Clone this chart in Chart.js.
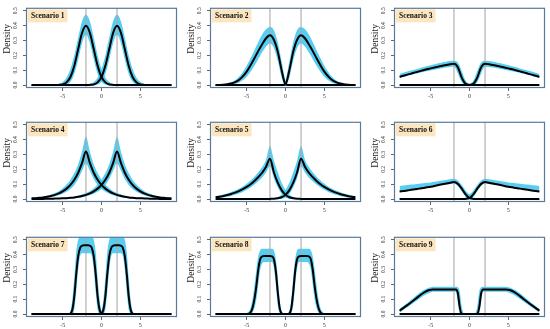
<!DOCTYPE html>
<html><head><meta charset="utf-8">
<script src="https://cdn.jsdelivr.net/npm/chart.js@4.4.1/dist/chart.umd.min.js"></script>
<style>
html,body{margin:0;padding:0;background:#fff;width:550px;height:329px;overflow:hidden;position:relative}
canvas{position:absolute}
</style></head><body>
<canvas id="c1" width="184" height="114" style="left:0px;top:0px"></canvas>
<canvas id="c2" width="184" height="114" style="left:184px;top:0px"></canvas>
<canvas id="c3" width="184" height="114" style="left:368px;top:0px"></canvas>
<canvas id="c4" width="184" height="114" style="left:0px;top:114px"></canvas>
<canvas id="c5" width="184" height="114" style="left:184px;top:114px"></canvas>
<canvas id="c6" width="184" height="114" style="left:368px;top:114px"></canvas>
<canvas id="c7" width="184" height="114" style="left:0px;top:229px"></canvas>
<canvas id="c8" width="184" height="114" style="left:184px;top:229px"></canvas>
<canvas id="c9" width="184" height="114" style="left:368px;top:229px"></canvas>
<script>
// ---------- data ----------
const scenarioNames = ['Scenario 1','Scenario 2','Scenario 3','Scenario 4','Scenario 5','Scenario 6','Scenario 7','Scenario 8','Scenario 9'];
const yAxisTitle = 'Density';
const xTicks = [-5, 0, 5];
const yTicks = [0, 0.1, 0.2, 0.3, 0.4, 0.5];
const refLines = [-2, 2];
const xRange = [-9.72, 9.72];
const yRange = [-0.02, 0.52];

const X37 = [-9,-8.5,-8,-7.5,-7,-6.5,-6,-5.5,-5,-4.5,-4,-3.5,-3,-2.5,-2,-1.5,-1,-0.5,0,0.5,1,1.5,2,2.5,3,3.5,4,4.5,5,5.5,6,6.5,7,7.5,8,8.5,9];
const XF = [-9,-8,-7,-6,-5.5,-5,-4.75,-4.5,-4.25,-4,-3.75,-3.5,-3.25,-3,-2.75,-2.5,-2.25,-2,-1.75,-1.5,-1.25,-1,-0.75,-0.5,-0.25,0,0.25,0.5,0.75,1,1.25,1.5,1.75,2,2.25,2.5,2.75,3,3.25,3.5,3.75,4,4.25,4.5,4.75,5,5.5,6,7,8,9];

// Scenario 1
const L1  = [0,0,0,0,0, 0,0, 0.001,0.004,0.018,0.054,0.13,0.242,0.352,0.399,0.352,0.242,0.13,0.054,0.018,0.004,0.001, 0,0,0,0,0, 0,0,0,0,0, 0,0,0,0,0];
const R1  = [0,0,0,0,0, 0,0,0,0,0, 0,0,0,0,0, 0.001,0.004,0.018,0.054,0.13,0.242,0.352,0.399,0.352,0.242,0.13,0.054,0.018,0.004,0.001, 0,0,0,0,0, 0,0];
const LU1 = [0,0,0,0,0, 0, 0.003,0.008,0.02,0.05,0.108,0.2,0.32,0.43,0.475,0.43,0.32,0.2,0.108,0.05,0.02,0.008,0.003, 0,0,0,0,0, 0,0,0,0,0, 0,0,0,0];
const RU1 = [0,0,0,0,0, 0,0,0,0,0, 0,0,0,0, 0.003,0.008,0.02,0.05,0.108,0.2,0.32,0.43,0.475,0.43,0.32,0.2,0.108,0.05,0.02,0.008,0.003, 0,0,0,0,0, 0];
const LL1 = [0,0,0,0,0, 0,0,0,0, 0.003,0.022,0.075,0.172,0.282,0.338,0.282,0.172,0.075,0.022,0.003, 0,0,0,0,0, 0,0,0,0,0, 0,0,0,0,0, 0,0];
const RL1 = [0,0,0,0,0, 0,0,0,0,0, 0,0,0,0,0, 0,0, 0.003,0.022,0.075,0.172,0.282,0.338,0.282,0.172,0.075,0.022,0.003, 0,0,0,0,0, 0,0,0,0];

// Scenario 2
const L2  = [0,0,0.002,0.005,0.01,0.019,0.034,0.058,0.09,0.133,0.18,0.23,0.275,0.315,0.335,0.305,0.225,0.1,0.005, 0,0,0,0,0, 0,0,0,0,0, 0,0,0,0,0, 0,0,0];
const R2  = [0,0,0,0,0, 0,0,0,0,0, 0,0,0,0,0, 0,0,0, 0.005,0.1,0.225,0.305,0.335,0.315,0.275,0.23,0.18,0.133,0.09,0.058,0.034,0.019,0.01,0.005,0.002,0,0];
const LU2 = [0.001,0.002,0.004,0.009,0.018,0.032,0.055,0.088,0.13,0.18,0.235,0.29,0.34,0.375,0.39,0.37,0.29,0.16,0.03,0.005, 0,0,0,0,0, 0,0,0,0,0, 0,0,0,0,0, 0,0];
const RU2 = [0,0,0,0,0, 0,0,0,0,0, 0,0,0,0,0, 0,0, 0.005,0.03,0.16,0.29,0.37,0.39,0.375,0.34,0.29,0.235,0.18,0.13,0.088,0.055,0.032,0.018,0.009,0.004,0.002,0.001];
const LL2 = [0,0,0,0,0.002,0.007,0.016,0.032,0.055,0.09,0.13,0.175,0.22,0.26,0.28,0.25,0.165,0.05, 0,0,0,0,0, 0,0,0,0,0, 0,0,0,0,0, 0,0,0,0];
const RL2 = [0,0,0,0,0, 0,0,0,0,0, 0,0,0,0,0, 0,0,0,0, 0.05,0.165,0.25,0.28,0.26,0.22,0.175,0.13,0.09,0.055,0.032,0.016,0.007,0.002,0,0,0,0];

// Scenario 3
const L3  = [0.055,0.062,0.07,0.077,0.085,0.092,0.099,0.106,0.112,0.118,0.124,0.13,0.135,0.14,0.143,0.12,0.05,0.008,0.001, 0,0,0,0,0, 0,0,0,0,0, 0,0,0,0,0, 0,0,0];
const R3  = [0,0,0,0,0, 0,0,0,0,0, 0,0,0,0,0, 0,0,0, 0.001,0.008,0.05,0.12,0.143,0.14,0.135,0.13,0.124,0.118,0.112,0.106,0.099,0.092,0.085,0.077,0.07,0.062,0.055];
const LU3 = [0.075,0.083,0.091,0.098,0.105,0.112,0.119,0.126,0.133,0.14,0.146,0.152,0.157,0.161,0.163,0.152,0.095,0.03,0.006, 0,0,0,0,0, 0,0,0,0,0, 0,0,0,0,0, 0,0,0];
const RU3 = [0,0,0,0,0, 0,0,0,0,0, 0,0,0,0,0, 0,0,0, 0.006,0.03,0.095,0.152,0.163,0.161,0.157,0.152,0.146,0.14,0.133,0.126,0.119,0.112,0.105,0.098,0.091,0.083,0.075];
const LL3 = [0.048,0.055,0.062,0.069,0.076,0.082,0.088,0.093,0.098,0.103,0.108,0.113,0.118,0.122,0.123,0.078,0.018,0,0, 0,0,0,0,0, 0,0,0,0,0, 0,0,0,0,0, 0,0,0];
const RL3 = [0,0,0,0,0, 0,0,0,0,0, 0,0,0,0,0, 0,0,0, 0,0,0.018,0.078,0.123,0.122,0.118,0.113,0.108,0.103,0.098,0.093,0.088,0.082,0.076,0.069,0.062,0.055,0.048];

// Scenario 4
const L4  = [0.005,0.006,0.008,0.011,0.015,0.021,0.028,0.038,0.052,0.07,0.095,0.13,0.177,0.243,0.32,0.243,0.177,0.13,0.095,0.07,0.052,0.038,0.028,0.021,0.015,0.011,0.008,0.006,0.005,0.004,0.003,0.002,0.002,0.001,0.001,0.001,0.001];
const R4  = [0.001,0.001,0.001,0.001,0.002,0.002,0.003,0.004,0.005,0.006,0.008,0.011,0.015,0.021,0.028,0.038,0.052,0.07,0.095,0.13,0.177,0.243,0.32,0.243,0.177,0.13,0.095,0.07,0.052,0.038,0.028,0.021,0.015,0.011,0.008,0.006,0.005];
const LU4 = [0.008,0.01,0.012,0.016,0.022,0.03,0.04,0.053,0.072,0.097,0.13,0.175,0.235,0.32,0.42,0.32,0.235,0.175,0.13,0.097,0.072,0.053,0.04,0.03,0.022,0.016,0.012,0.01,0.008,0.006,0.005,0.004,0.003,0.003,0.002,0.002,0.002];
const RU4 = [0.002,0.002,0.002,0.003,0.003,0.004,0.005,0.006,0.008,0.01,0.012,0.016,0.022,0.03,0.04,0.053,0.072,0.097,0.13,0.175,0.235,0.32,0.42,0.32,0.235,0.175,0.13,0.097,0.072,0.053,0.04,0.03,0.022,0.016,0.012,0.01,0.008];
const LL4 = [0.001,0.002,0.003,0.005,0.008,0.012,0.018,0.025,0.035,0.049,0.068,0.095,0.135,0.19,0.24,0.19,0.135,0.095,0.068,0.049,0.035,0.025,0.018,0.012,0.008,0.005,0.003,0.002,0.001, 0,0,0,0,0, 0,0,0];
const RL4 = [0,0,0,0,0, 0,0,0, 0.001,0.002,0.003,0.005,0.008,0.012,0.018,0.025,0.035,0.049,0.068,0.095,0.135,0.19,0.24,0.19,0.135,0.095,0.068,0.049,0.035,0.025,0.018,0.012,0.008,0.005,0.003,0.002,0.001];

// Scenario 5
const L5  = [0.012,0.016,0.021,0.027,0.034,0.043,0.053,0.066,0.082,0.1,0.122,0.148,0.178,0.218,0.272,0.18,0.11,0.06,0.028,0.012,0.005,0.002,0.001, 0,0,0,0,0, 0,0,0,0,0, 0,0,0,0];
const R5  = [0,0,0,0,0, 0,0,0,0,0, 0,0,0,0, 0.001,0.002,0.005,0.012,0.028,0.06,0.11,0.18,0.272,0.218,0.178,0.148,0.122,0.1,0.082,0.066,0.053,0.043,0.034,0.027,0.021,0.016,0.012];
const LU5 = [0.02,0.025,0.031,0.038,0.047,0.058,0.07,0.085,0.103,0.124,0.15,0.18,0.215,0.265,0.355,0.26,0.18,0.11,0.06,0.03,0.014,0.007,0.003,0.001, 0,0,0,0,0, 0,0,0,0,0, 0,0,0];
const RU5 = [0,0,0,0,0, 0,0,0,0,0, 0,0,0, 0.001,0.003,0.007,0.014,0.03,0.06,0.11,0.18,0.26,0.355,0.265,0.215,0.18,0.15,0.124,0.103,0.085,0.07,0.058,0.047,0.038,0.031,0.025,0.02];
const LL5 = [0.003,0.006,0.01,0.015,0.021,0.028,0.037,0.048,0.062,0.078,0.097,0.12,0.145,0.178,0.22,0.14,0.08,0.035,0.01,0.002, 0,0,0,0,0, 0,0,0,0,0, 0,0,0,0,0, 0,0];
const RL5 = [0,0,0,0,0, 0,0,0,0,0, 0,0,0,0,0, 0,0, 0.002,0.01,0.035,0.08,0.14,0.22,0.178,0.145,0.12,0.097,0.078,0.062,0.048,0.037,0.028,0.021,0.015,0.01,0.006,0.003];

// Scenario 6
const L6  = [0.05,0.054,0.058,0.062,0.066,0.07,0.074,0.079,0.083,0.088,0.094,0.099,0.104,0.109,0.114,0.102,0.07,0.032,0.006,0.001, 0,0,0,0,0, 0,0,0,0,0, 0,0,0,0,0, 0,0];
const R6  = [0,0,0,0,0, 0,0,0,0,0, 0,0,0,0,0, 0,0, 0.001,0.006,0.032,0.07,0.102,0.114,0.109,0.104,0.099,0.094,0.088,0.083,0.079,0.074,0.07,0.066,0.062,0.058,0.054,0.05];
const LU6 = [0.088,0.091,0.094,0.097,0.1,0.103,0.106,0.109,0.112,0.116,0.12,0.124,0.128,0.133,0.137,0.125,0.095,0.058,0.03,0.01,0.003, 0,0,0,0,0, 0,0,0,0,0, 0,0,0,0,0, 0];
const RU6 = [0,0,0,0,0, 0,0,0,0,0, 0,0,0,0,0, 0, 0.003,0.01,0.03,0.058,0.095,0.125,0.137,0.133,0.128,0.124,0.12,0.116,0.112,0.109,0.106,0.103,0.1,0.097,0.094,0.091,0.088];
const LL6 = [0.045,0.05,0.054,0.059,0.063,0.068,0.072,0.077,0.081,0.085,0.089,0.094,0.098,0.102,0.104,0.088,0.052,0.015,0, 0,0,0,0,0, 0,0,0,0,0, 0,0,0,0,0, 0,0,0];
const RL6 = [0,0,0,0,0, 0,0,0,0,0, 0,0,0,0,0, 0,0,0, 0,0.015,0.052,0.088,0.104,0.102,0.098,0.094,0.089,0.085,0.081,0.077,0.072,0.068,0.063,0.059,0.054,0.05,0.045];

// Scenario 7 (fine grid)
const L7  = [0,0,0,0,0, 0,0,0,0, 0.003,0.03,0.12,0.27,0.39,0.445,0.46,0.463,0.463,0.463,0.46,0.445,0.39,0.27,0.12,0.03,0.003, 0,0,0,0,0, 0,0,0,0,0, 0,0,0,0,0, 0,0,0,0,0, 0,0,0,0,0];
const R7  = [0,0,0,0,0, 0,0,0,0,0, 0,0,0,0,0, 0,0,0,0,0, 0,0,0,0,0, 0.003,0.03,0.12,0.27,0.39,0.445,0.46,0.463,0.463,0.463,0.46,0.445,0.39,0.27,0.12,0.03,0.003, 0,0,0,0,0, 0,0,0,0];
const LU7 = [0,0,0,0,0, 0,0,0, 0.002,0.02,0.1,0.25,0.42,0.5,0.53,0.54,0.54,0.54,0.54,0.54,0.53,0.5,0.42,0.25,0.1,0.02,0.002, 0,0,0,0,0, 0,0,0,0,0, 0,0,0,0,0, 0,0,0,0,0, 0,0,0,0];
const RU7 = [0,0,0,0,0, 0,0,0,0,0, 0,0,0,0,0, 0,0,0,0,0, 0,0,0,0, 0.002,0.02,0.1,0.25,0.42,0.5,0.53,0.54,0.54,0.54,0.54,0.54,0.53,0.5,0.42,0.25,0.1,0.02,0.002, 0,0,0,0,0, 0,0,0];
const LL7 = [0,0,0,0,0, 0,0,0,0,0, 0, 0.03,0.15,0.3,0.39,0.41,0.41,0.41,0.41,0.41,0.39,0.3,0.15,0.03, 0,0,0,0,0, 0,0,0,0,0, 0,0,0,0,0, 0,0,0,0,0, 0,0,0,0,0, 0,0];
const RL7 = [0,0,0,0,0, 0,0,0,0,0, 0,0,0,0,0, 0,0,0,0,0, 0,0,0,0,0, 0,0, 0.03,0.15,0.3,0.39,0.41,0.41,0.41,0.41,0.41,0.39,0.3,0.15,0.03, 0,0,0,0,0, 0,0,0,0,0, 0];

// Scenario 8 (fine grid)
const L8  = [0,0,0,0,0, 0, 0.002,0.01,0.04,0.1,0.19,0.3,0.37,0.388,0.39,0.39,0.39,0.39,0.388,0.37,0.29,0.15,0.04,0.005, 0,0,0,0,0, 0,0,0,0,0, 0,0,0,0,0, 0,0,0,0,0, 0,0,0,0,0, 0,0];
const R8  = [0,0,0,0,0, 0,0,0,0,0, 0,0,0,0,0, 0,0,0,0,0, 0,0,0,0,0, 0,0, 0.005,0.04,0.15,0.29,0.37,0.388,0.39,0.39,0.39,0.39,0.388,0.37,0.3,0.19,0.1,0.04,0.01,0.002, 0,0,0,0,0, 0];
const LU8 = [0,0,0,0, 0.001,0.005,0.015,0.04,0.1,0.19,0.3,0.39,0.43,0.44,0.44,0.44,0.44,0.44,0.44,0.43,0.37,0.25,0.1,0.02,0.003, 0,0,0,0,0, 0,0,0,0,0, 0,0,0,0,0, 0,0,0,0,0, 0,0,0,0,0, 0];
const RU8 = [0,0,0,0,0, 0,0,0,0,0, 0,0,0,0,0, 0,0,0,0,0, 0,0,0,0,0, 0, 0.003,0.02,0.1,0.25,0.37,0.43,0.44,0.44,0.44,0.44,0.44,0.44,0.43,0.39,0.3,0.19,0.1,0.04,0.015,0.005,0.001, 0,0,0,0];
const LL8 = [0,0,0,0,0, 0,0,0, 0.01,0.04,0.1,0.2,0.3,0.34,0.35,0.35,0.35,0.35,0.35,0.31,0.2,0.06,0.005, 0,0,0,0,0, 0,0,0,0,0, 0,0,0,0,0, 0,0,0,0,0, 0,0,0,0,0, 0,0,0];
const RL8 = [0,0,0,0,0, 0,0,0,0,0, 0,0,0,0,0, 0,0,0,0,0, 0,0,0,0,0, 0,0,0, 0.005,0.06,0.2,0.31,0.35,0.35,0.35,0.35,0.35,0.34,0.3,0.2,0.1,0.04,0.01, 0,0,0,0,0, 0,0,0];

// Scenario 9 (fine grid)
const L9  = [0.022,0.06,0.1,0.14,0.155,0.163,0.165, 0.166,0.166,0.166,0.166,0.166,0.166,0.166,0.166,0.166,0.166,0.166,0.166, 0.14,0.045,0.002, 0,0,0,0,0, 0,0,0,0,0, 0,0,0,0,0, 0,0,0,0,0, 0,0,0,0,0, 0,0,0,0];
const R9  = [0,0,0,0,0, 0,0,0,0,0, 0,0,0,0,0, 0,0,0,0,0, 0,0,0,0,0, 0,0,0,0, 0.002,0.045,0.14, 0.166,0.166,0.166,0.166,0.166,0.166,0.166,0.166,0.166,0.166,0.166,0.166, 0.165,0.163,0.155,0.14,0.1,0.06,0.022];
const LU9 = [0.035,0.075,0.118,0.158,0.172,0.18, 0.183,0.183,0.183,0.183,0.183,0.183,0.183,0.183,0.183,0.183,0.183,0.183,0.183, 0.18,0.15,0.05,0.005, 0,0,0,0,0, 0,0,0,0,0, 0,0,0,0,0, 0,0,0,0,0, 0,0,0,0,0, 0,0,0];
const RU9 = [0,0,0,0,0, 0,0,0,0,0, 0,0,0,0,0, 0,0,0,0,0, 0,0,0,0,0, 0,0,0, 0.005,0.05,0.15,0.18, 0.183,0.183,0.183,0.183,0.183,0.183,0.183,0.183,0.183,0.183,0.183,0.183,0.183, 0.18,0.172,0.158,0.118,0.075,0.035];
const LL9 = [0.01,0.045,0.082,0.12,0.135,0.145, 0.15,0.15,0.15,0.15,0.15,0.15,0.15,0.15,0.15,0.15,0.15,0.15,0.15, 0.08,0.005, 0,0,0,0,0, 0,0,0,0,0, 0,0,0,0,0, 0,0,0,0,0, 0,0,0,0,0, 0,0,0,0,0];
const RL9 = [0,0,0,0,0, 0,0,0,0,0, 0,0,0,0,0, 0,0,0,0,0, 0,0,0,0,0, 0,0,0,0,0, 0.005,0.08, 0.15,0.15,0.15,0.15,0.15,0.15,0.15,0.15,0.15,0.15,0.15,0.15,0.15, 0.145,0.135,0.12,0.082,0.045,0.01];

// ---------- building the charts ----------
const panels = [
  {xs:X37, L:L1, R:R1, LU:LU1, LL:LL1, RU:RU1, RL:RL1},
  {xs:X37, L:L2, R:R2, LU:LU2, LL:LL2, RU:RU2, RL:RL2},
  {xs:X37, L:L3, R:R3, LU:LU3, LL:LL3, RU:RU3, RL:RL3},
  {xs:X37, L:L4, R:R4, LU:LU4, LL:LL4, RU:RU4, RL:RL4},
  {xs:X37, L:L5, R:R5, LU:LU5, LL:LL5, RU:RU5, RL:RL5},
  {xs:X37, L:L6, R:R6, LU:LU6, LL:LL6, RU:RU6, RL:RL6},
  {xs:XF, L:L7, R:R7, LU:LU7, LL:LL7, RU:RU7, RL:RL7},
  {xs:XF, L:L8, R:R8, LU:LU8, LL:LL8, RU:RU8, RL:RL8},
  {xs:XF, L:L9, R:R9, LU:LU9, LL:LL9, RU:RU9, RL:RL9}
];

const BAND = 'rgba(45,194,238,0.8)';
const NONE = 'rgba(0,0,0,0)';
const SERIF = '"Liberation Serif", "DejaVu Serif", serif';

function pts(xs, ys){ return xs.map((x,i)=>({x:x, y:ys[i]})); }

const framePlugin = {
  id: 'frame',
  afterDatasetsDraw(chart, args, opts){
    const {ctx, chartArea:a} = chart;
    ctx.save();
    ctx.strokeStyle = '#5a7a9c';
    ctx.lineWidth = 1.2;
    ctx.strokeRect(a.left+0.5, a.top+0.5, a.right-a.left-1, a.bottom-a.top-1);
    ctx.fillStyle = '#fbe6c0';
    ctx.fillRect(a.left+1.5, a.top+1.5, 40, 13);
    ctx.fillStyle = '#111';
    ctx.font = 'bold 7.5px ' + SERIF;
    ctx.textBaseline = 'middle';
    ctx.textAlign = 'left';
    ctx.fillText(opts.label, a.left+5, a.top+8.5);
    // y axis title (drawn a little above the centre, as in the original)
    ctx.translate(7, (a.top + a.bottom)/2 - 9);
    ctx.rotate(-Math.PI/2);
    ctx.fillStyle = '#222';
    ctx.font = '9.5px ' + SERIF;
    ctx.textAlign = 'center';
    ctx.fillText(opts.title, 0, 0);
    ctx.restore();
  }
};

panels.forEach((p, k) => {
  const band = (up, lo) => [
    {data:pts(p.xs, up), borderColor:NONE, borderWidth:0, backgroundColor:BAND, fill:'+1', pointRadius:0, order:3, cubicInterpolationMode:'monotone'},
    {data:pts(p.xs, lo), borderColor:NONE, borderWidth:0, backgroundColor:NONE, fill:false, pointRadius:0, order:3, cubicInterpolationMode:'monotone'}
  ];
  const datasets = [
    ...band(p.LU, p.LL),
    ...band(p.RU, p.RL),
    ...refLines.map(v => ({data:[{x:v,y:yRange[0]},{x:v,y:yRange[1]}], borderColor:'#a9a9a9', borderWidth:1.1, pointRadius:0, fill:false, order:2})),
    {data:pts(p.xs, p.L), borderColor:'#000', borderWidth:2, pointRadius:0, fill:false, order:1, cubicInterpolationMode:'monotone'},
    {data:pts(p.xs, p.R), borderColor:'#000', borderWidth:2, pointRadius:0, fill:false, order:1, cubicInterpolationMode:'monotone'}
  ];
  new Chart(document.getElementById('c'+(k+1)), {
    type:'line',
    data:{datasets},
    plugins:[framePlugin],
    options:{
      responsive:false, animation:false, devicePixelRatio:1,
      layout:{padding:{top:3, right:7, left:0, bottom:0}},
      plugins:{legend:{display:false}, tooltip:{enabled:false}, frame:{label:scenarioNames[k], title:yAxisTitle}},
      scales:{
        x:{type:'linear', min:xRange[0], max:xRange[1],
           afterBuildTicks:s=>{ s.ticks = xTicks.map(v=>({value:v})); },
           afterFit:s=>{ s.height = 26; },
           ticks:{font:{family:SERIF, size:6}, color:'#333', padding:2, maxRotation:0, callback:v=>String(v)},
           grid:{display:true, drawOnChartArea:false, drawTicks:true, tickLength:3, color:'#666'},
           border:{display:false}},
        y:{type:'linear', min:yRange[0], max:yRange[1],
           afterBuildTicks:s=>{ s.ticks = yTicks.map(v=>({value:v})); },
           afterFit:s=>{ s.width = 26; },
           ticks:{font:{family:SERIF, size:5.5}, color:'#333', padding:4.5, minRotation:90, maxRotation:90, crossAlign:'center', callback:v=>v.toFixed(1)},
           grid:{display:true, drawOnChartArea:false, drawTicks:true, tickLength:3, color:'#666'},
           border:{display:false},
           title:{display:false}}
      }
    }
  });
});
</script>
</body></html>
